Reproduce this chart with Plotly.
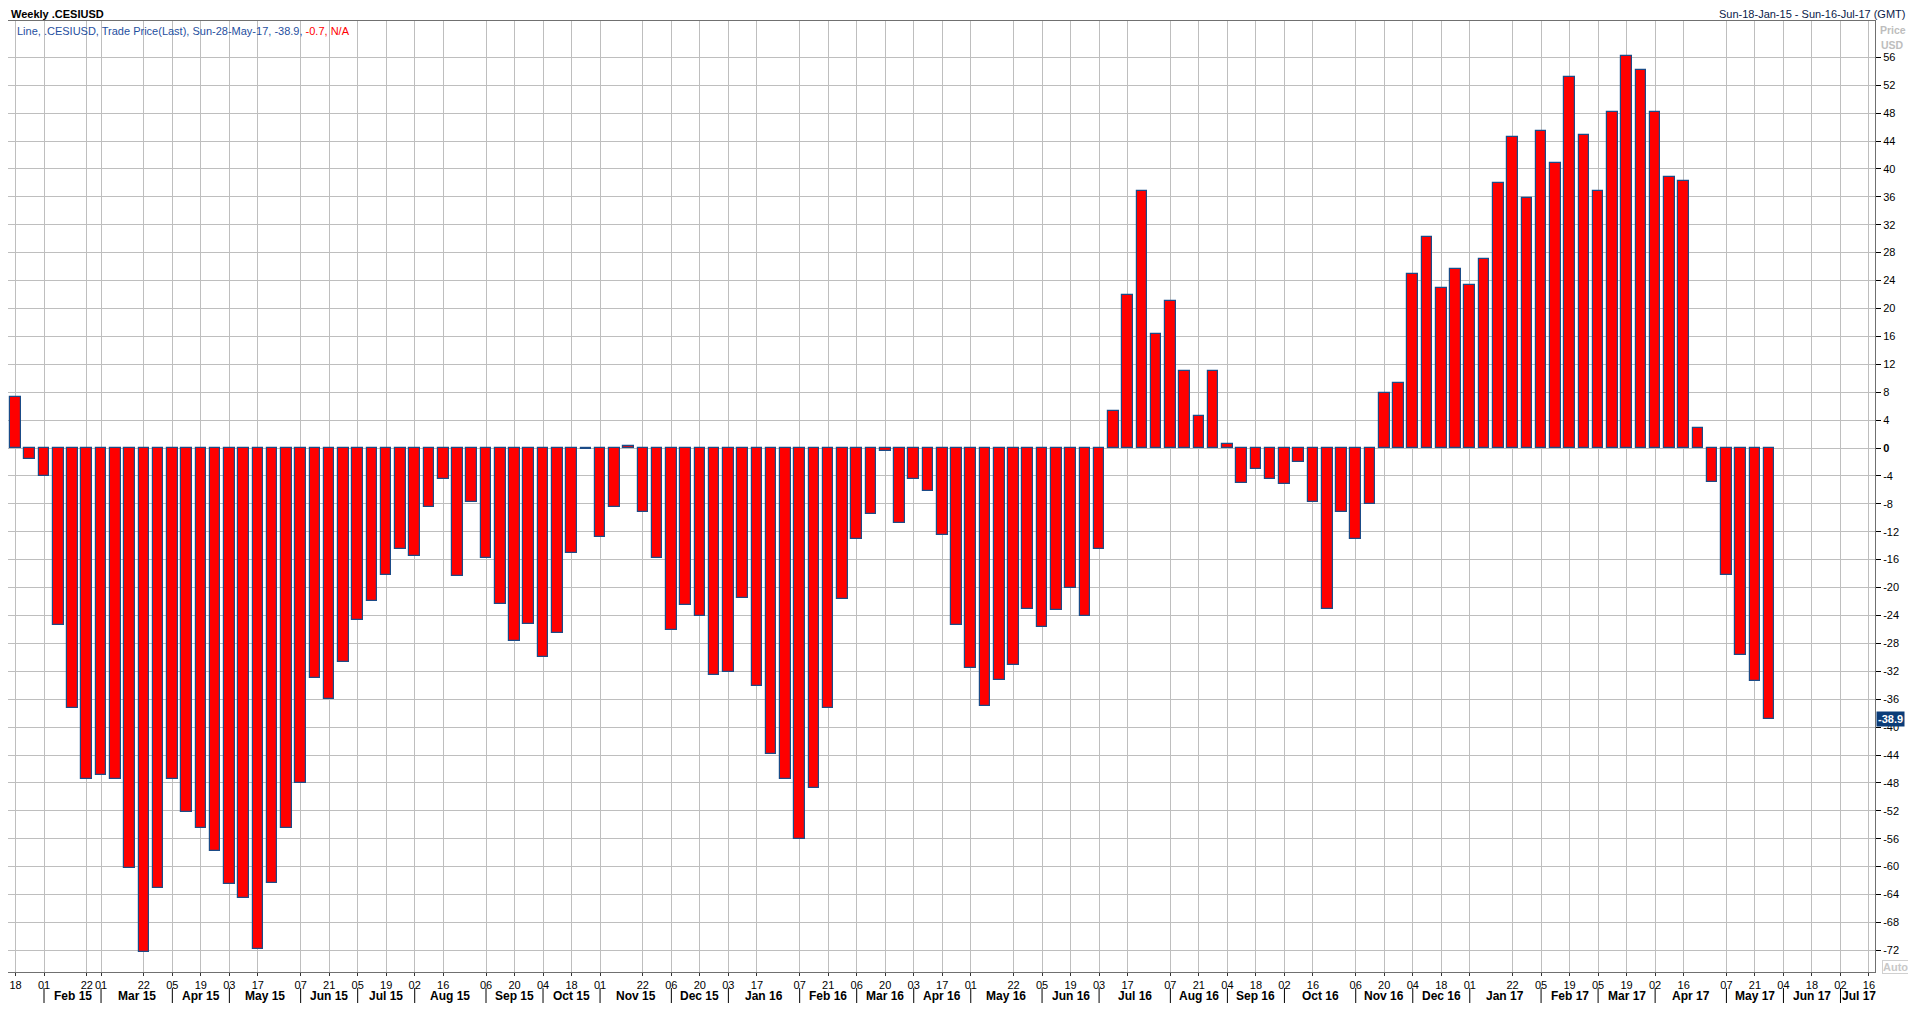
import pandas as pd
import plotly.graph_objects as go

# ---------------- data ----------------
first_week = "2015-01-18"
n_weeks = 124
values = [7.3, -1.6, -4.0, -25.3, -37.3, -47.5, -46.9, -47.5, -60.2, -72.2,
          -63.1, -47.4, -52.2, -54.4, -57.8, -62.5, -64.5, -71.8, -62.3, -54.4,
          -48.0, -33.0, -36.0, -30.6, -24.7, -21.9, -18.2, -14.5, -15.5, -8.4,
          -4.5, -18.4, -7.7, -15.8, -22.4, -27.7, -25.2, -30.0, -26.5, -15.0,
          -0.2, -12.8, -8.5, 0.35, -9.2, -15.7, -26.1, -22.5, -24.1, -32.5,
          -32.1, -21.5, -34.1, -43.8, -47.5, -56.0, -48.7, -37.2, -21.7, -13.1,
          -9.5, -0.4, -10.8, -4.5, -6.1, -12.4, -25.4, -31.5, -37.0, -33.2,
          -31.1, -23.1, -25.7, -23.2, -20.1, -24.1, -14.5, 5.3, 22.0, 36.9,
          16.4, 21.0, 11.0, 4.6, 11.1, 0.6, -5.0, -3.0, -4.4, -5.1,
          -2.0, -7.7, -23.1, -9.1, -13.0, -8.0, 7.9, 9.3, 24.9, 30.3,
          23.0, 25.7, 23.4, 27.1, 38.0, 44.6, 35.9, 45.4, 40.8, 53.2,
          44.9, 36.8, 48.1, 56.2, 54.2, 48.1, 38.8, 38.3, 2.8, -4.8,
          -18.2, -29.6, -33.4, -38.9]

tick_dates = ["2015-01-18", "2015-02-01", "2015-02-22", "2015-03-01", "2015-03-22",
              "2015-04-05", "2015-04-19", "2015-05-03", "2015-05-17", "2015-06-07",
              "2015-06-21", "2015-07-05", "2015-07-19", "2015-08-02", "2015-08-16",
              "2015-09-06", "2015-09-20", "2015-10-04", "2015-10-18", "2015-11-01",
              "2015-11-22", "2015-12-06", "2015-12-20", "2016-01-03", "2016-01-17",
              "2016-02-07", "2016-02-21", "2016-03-06", "2016-03-20", "2016-04-03",
              "2016-04-17", "2016-05-01", "2016-05-22", "2016-06-05", "2016-06-19",
              "2016-07-03", "2016-07-17", "2016-08-07", "2016-08-21", "2016-09-04",
              "2016-09-18", "2016-10-02", "2016-10-16", "2016-11-06", "2016-11-20",
              "2016-12-04", "2016-12-18", "2017-01-01", "2017-01-22", "2017-02-05",
              "2017-02-19", "2017-03-05", "2017-03-19", "2017-04-02", "2017-04-16",
              "2017-05-07", "2017-05-21", "2017-06-04", "2017-06-18", "2017-07-02",
              "2017-07-16"]
tick_days = [d[-2:] for d in tick_dates]

month_starts = ["2015-02-01", "2015-03-01", "2015-04-05", "2015-05-03", "2015-06-07",
                "2015-07-05", "2015-08-02", "2015-09-06", "2015-10-04", "2015-11-01",
                "2015-12-06", "2016-01-03", "2016-02-07", "2016-03-06", "2016-04-03",
                "2016-05-01", "2016-06-05", "2016-07-03", "2016-08-07", "2016-09-04",
                "2016-10-02", "2016-11-06", "2016-12-04", "2017-01-01", "2017-02-05",
                "2017-03-05", "2017-04-02", "2017-05-07", "2017-06-04", "2017-07-02"]
month_labels = ["Feb 15", "Mar 15", "Apr 15", "May 15", "Jun 15", "Jul 15", "Aug 15",
                "Sep 15", "Oct 15", "Nov 15", "Dec 15", "Jan 16", "Feb 16", "Mar 16",
                "Apr 16", "May 16", "Jun 16", "Jul 16", "Aug 16", "Sep 16", "Oct 16",
                "Nov 16", "Dec 16", "Jan 17", "Feb 17", "Mar 17", "Apr 17", "May 17",
                "Jun 17", "Jul 17"]

y_ticks = list(range(-72, 57, 4))
y_ticktext = ["<b>0</b>" if v == 0 else str(v) for v in y_ticks]

last_value = -38.9

# ---------------- layout geometry ----------------
W, H = 1900, 1004
M_L, M_R, M_T, M_B = 0, 33, 13, 40
PLOT_H = H - M_T - M_B

dates = pd.date_range(first_week, periods=n_weeks, freq="7D")
x_start = pd.Timestamp(first_week) - pd.Timedelta(days=3.68)
x_end = pd.Timestamp(first_week) + pd.Timedelta(days=912.95)

FONT = "Tahoma, 'Liberation Sans', Arial, sans-serif"
RED = "#FF0000"
NAVY = "#1B4B87"
GRID = "#BEBEBE"

fig = go.Figure()
fig.add_trace(go.Bar(
    x=dates, y=values,
    width=5.2 * 86400000,
    marker=dict(color=RED, line=dict(color=NAVY, width=1.2)),
    hoverinfo="x+y",
))

annotations = []
shapes = []

# month separators and labels
ms = [pd.Timestamp(d) for d in month_starts]
for i, (d, lab) in enumerate(zip(ms, month_labels)):
    shapes.append(dict(type="line", xref="x", yref="paper", x0=d, x1=d,
                       y0=-16 / PLOT_H, y1=-31 / PLOT_H,
                       line=dict(color="#000000", width=1)))
    nxt = ms[i + 1] if i + 1 < len(ms) else x_end
    if i + 1 < len(ms):
        annotations.append(dict(x=d + (nxt - d) / 2, y=-23.5 / PLOT_H, xref="x", yref="paper",
                                text="<b>%s</b>" % lab, showarrow=False, xanchor="center",
                                yanchor="middle", font=dict(family=FONT, size=12, color="#000")))
    else:
        annotations.append(dict(x=d, y=-23.5 / PLOT_H, xref="x", yref="paper",
                                text="<b>%s</b>" % lab, showarrow=False, xanchor="left",
                                xshift=0, yanchor="middle",
                                font=dict(family=FONT, size=12, color="#000")))

# headers
annotations.append(dict(x=0, y=1, xref="paper", yref="paper", xanchor="left", yanchor="bottom",
                        xshift=1, yshift=-1, showarrow=False, text="<b>Weekly .CESIUSD</b>",
                        font=dict(family=FONT, size=11, color="#000")))
annotations.append(dict(x=1, y=1, xref="paper", yref="paper", xanchor="right", yanchor="bottom",
                        xshift=32, yshift=-1, showarrow=False,
                        text="Sun-18-Jan-15 - Sun-16-Jul-17 (GMT)",
                        font=dict(family=FONT, size=11, color="#0A1A4A")))
annotations.append(dict(x=0, y=1, xref="paper", yref="paper", xanchor="left", yanchor="top",
                        xshift=7, yshift=-2, showarrow=False,
                        text="<span style='color:#1F4FA0'>Line, .CESIUSD, Trade Price(Last), "
                             "Sun-28-May-17, %s, </span><span style='color:#FF0000'>-0.7, N/A</span>" % last_value,
                        font=dict(family=FONT, size=11)))
# Price / USD
annotations.append(dict(x=1, y=1, xref="paper", yref="paper", xanchor="left", yanchor="top",
                        xshift=3, yshift=-1, showarrow=False, text="<b>Price</b>",
                        font=dict(family=FONT, size=10.5, color="#BDBDBD")))
annotations.append(dict(x=1, y=1, xref="paper", yref="paper", xanchor="left", yanchor="top",
                        xshift=4, yshift=-16, showarrow=False, text="<b>USD</b>",
                        font=dict(family=FONT, size=10.5, color="#BDBDBD")))
# last value box
annotations.append(dict(x=1, y=last_value, xref="paper", yref="y", xanchor="left", yanchor="middle",
                        xshift=1, showarrow=False, text="<b>%s</b>" % last_value,
                        bgcolor="#0B3C78", borderpad=1,
                        font=dict(family=FONT, size=11, color="#FFFFFF")))
# Auto box
annotations.append(dict(x=1, y=0, xref="paper", yref="paper", xanchor="left", yanchor="top",
                        xshift=7, yshift=12, showarrow=False, text="<b>Auto</b>",
                        bordercolor="#D0D0D0", borderwidth=1, borderpad=0,
                        font=dict(family=FONT, size=11, color="#C8C8C8")))

fig.update_layout(
    width=W, height=H,
    margin=dict(l=M_L, r=M_R, t=M_T, b=M_B, pad=0),
    paper_bgcolor="#FFFFFF", plot_bgcolor="#FFFFFF",
    showlegend=False,
    bargap=0,
    annotations=annotations,
    shapes=shapes,
    font=dict(family=FONT, size=11, color="#000"),
    xaxis=dict(type="date", range=[x_start, x_end],
               tickmode="array", tickvals=tick_dates, ticktext=tick_days,
               showgrid=True, gridcolor=GRID, gridwidth=1,
               ticks="outside", ticklen=3, tickcolor="#333",
               showline=True, linecolor="#707070", linewidth=1, mirror=True,
               tickfont=dict(family=FONT, size=11, color="#000"), zeroline=False),
    yaxis=dict(side="right", range=[-75.1, 61.2],
               tickmode="array", tickvals=y_ticks, ticktext=y_ticktext,
               showgrid=True, gridcolor=GRID, gridwidth=1,
               ticks="outside", ticklen=5, tickcolor="#000",
               showline=True, linecolor="#707070", linewidth=1, mirror=True,
               tickfont=dict(family=FONT, size=11, color="#000"), zeroline=False),
)

fig.write_html("out.html")
